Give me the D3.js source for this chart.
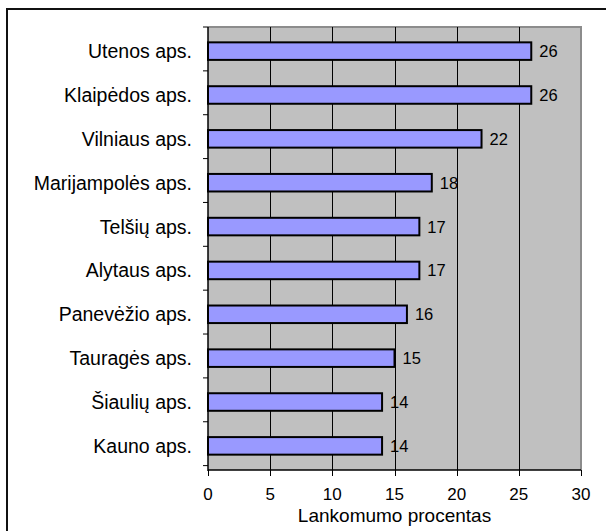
<!DOCTYPE html>
<html>
<head>
<meta charset="utf-8">
<script src="https://cdn.jsdelivr.net/npm/d3@7"></script>
<style>
  body { margin: 0; background: #fff; }
  text { font-family: "Liberation Sans", Arial, sans-serif; fill: #000; }
</style>
</head>
<body>
<script>
var width = 606, height = 531;

// data (top to bottom)
var apskritys = ["Utenos aps.", "Klaipėdos aps.", "Vilniaus aps.", "Marijampolės aps.",
    "Telšių aps.", "Alytaus aps.", "Panevėžio aps.", "Tauragės aps.", "Šiaulių aps.", "Kauno aps."];
var procentai = [26, 26, 22, 18, 17, 17, 16, 15, 14, 14];
var xTicks = [0, 5, 10, 15, 20, 25, 30];
var xTitle = "Lankomumo procentas";

var plot = {left: 208, right: 581, top: 27, bottom: 470};

var svg = d3.select("body")
    .append("svg")
    .attr("width", width)
    .attr("height", height);

// outer frame (only top and left show in the picture)
svg.append("path")
    .attr("d", "M7,531 V9 H606")
    .attr("fill", "none")
    .attr("stroke", "#111")
    .attr("stroke-width", 2);

var x = d3.scaleLinear().domain([0, 30]).range([plot.left, plot.right]);
var y = d3.scaleBand()
    .domain(apskritys)
    .range([plot.top, plot.bottom])
    .paddingInner(0.6)
    .paddingOuter(0.35);

// plot background
svg.append("rect")
    .attr("x", plot.left)
    .attr("y", plot.top)
    .attr("width", plot.right - plot.left)
    .attr("height", plot.bottom - plot.top)
    .attr("fill", "#c0c0c0");
svg.append("path")
    .attr("d", "M" + plot.left + "," + plot.top + " H" + plot.right + " V" + plot.bottom)
    .attr("fill", "none")
    .attr("stroke", "#8c8c8c")
    .attr("stroke-width", 2);

// gridlines
svg.append("g")
    .selectAll("line")
    .data(xTicks.filter(function(d) { return d > 0 && d < 30; }))
    .enter()
    .append("line")
    .attr("x1", function(d) { return Math.round(x(d)) + 0.5; })
    .attr("x2", function(d) { return Math.round(x(d)) + 0.5; })
    .attr("y1", plot.top)
    .attr("y2", plot.bottom)
    .attr("stroke", "#000")
    .attr("stroke-width", 1);

// bars
svg.append("g")
    .selectAll("rect")
    .data(procentai)
    .enter()
    .append("rect")
    .attr("x", x(0))
    .attr("y", function(d, i) { return y(apskritys[i]); })
    .attr("width", function(d) { return x(d) - x(0); })
    .attr("height", y.bandwidth())
    .attr("fill", "#9999ff")
    .attr("stroke", "#000")
    .attr("stroke-width", 2);

// value labels
svg.append("g")
    .selectAll("text")
    .data(procentai)
    .enter()
    .append("text")
    .attr("x", function(d) { return x(d) + 8; })
    .attr("y", function(d, i) { return y(apskritys[i]) + y.bandwidth() / 2; })
    .attr("dy", "0.36em")
    .style("font-size", "16.5px")
    .text(function(d) { return d; });

// y axis
var yAxis = svg.append("g").attr("transform", "translate(" + plot.left + ",0)");
yAxis.append("line")
    .attr("y1", plot.top).attr("y2", plot.bottom + 1)
    .attr("stroke", "#000").attr("stroke-width", 1.5);
yAxis.selectAll(".tk")
    .data(d3.range(apskritys.length + 1))
    .enter()
    .append("line")
    .attr("x1", -5).attr("x2", 0)
    .attr("y1", function(i) { return plot.top + i * y.step(); })
    .attr("y2", function(i) { return plot.top + i * y.step(); })
    .attr("stroke", "#000");
yAxis.selectAll("text")
    .data(apskritys)
    .enter()
    .append("text")
    .attr("x", -16)
    .attr("y", function(d) { return y(d) + y.bandwidth() / 2; })
    .attr("dy", "0.36em")
    .attr("text-anchor", "end")
    .style("font-size", "19.5px")
    .text(function(d) { return d; });

// x axis
var xAxis = svg.append("g").attr("transform", "translate(0," + plot.bottom + ")");
xAxis.append("line")
    .attr("x1", plot.left).attr("x2", plot.right)
    .attr("stroke", "#000").attr("stroke-width", 1.5);
xAxis.selectAll(".tk")
    .data(xTicks)
    .enter()
    .append("line")
    .attr("x1", function(d) { return Math.round(x(d)) + 0.5; })
    .attr("x2", function(d) { return Math.round(x(d)) + 0.5; })
    .attr("y1", 0).attr("y2", 6)
    .attr("stroke", "#000");
xAxis.selectAll("text")
    .data(xTicks)
    .enter()
    .append("text")
    .attr("x", function(d) { return x(d); })
    .attr("y", 30)
    .attr("text-anchor", "middle")
    .style("font-size", "17px")
    .text(function(d) { return d; });

svg.append("text")
    .attr("x", (plot.left + plot.right) / 2)
    .attr("y", 522)
    .attr("text-anchor", "middle")
    .style("font-size", "19px")
    .text(xTitle);
</script>
</body>
</html>
